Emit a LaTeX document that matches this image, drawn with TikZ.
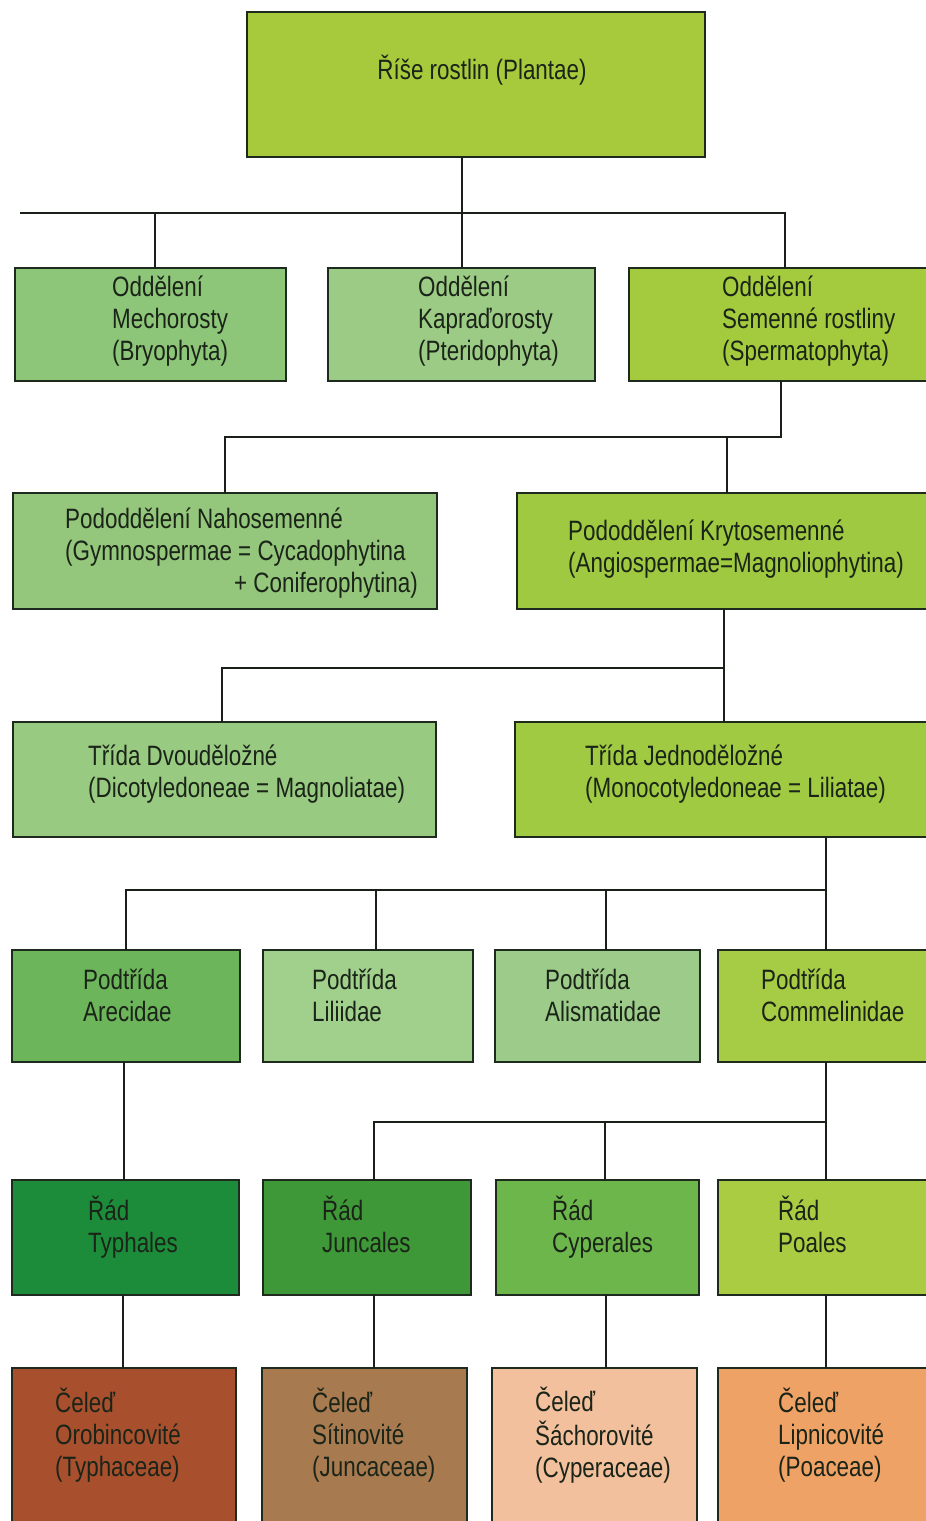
\documentclass[tikz,border=0pt]{standalone}
\usepackage{fontspec}
\setmainfont[FakeStretch=0.8]{Liberation Sans}
\definecolor{boxline}{HTML}{1F2A1F}
\definecolor{connc}{HTML}{1A1F1A}
\definecolor{txt}{HTML}{1B2418}
\definecolor{cRoot}{HTML}{A6CA3C}
\definecolor{cMech}{HTML}{8EC679}
\definecolor{cKap}{HTML}{9CCB85}
\definecolor{cSem}{HTML}{A4CA3E}
\definecolor{cNah}{HTML}{94C77B}
\definecolor{cKry}{HTML}{9EC940}
\definecolor{cDvo}{HTML}{99CA81}
\definecolor{cJed}{HTML}{A0CA42}
\definecolor{cAre}{HTML}{6CB55B}
\definecolor{cLil}{HTML}{A0D08C}
\definecolor{cAli}{HTML}{9DCB8A}
\definecolor{cCom}{HTML}{A6CB44}
\definecolor{cTyp}{HTML}{1D8C3A}
\definecolor{cJun}{HTML}{3F9838}
\definecolor{cCyp}{HTML}{6CB64C}
\definecolor{cPoa}{HTML}{A9CC42}
\definecolor{cTypc}{HTML}{A8502E}
\definecolor{cJunc}{HTML}{A77A50}
\definecolor{cCypc}{HTML}{F2C09C}
\definecolor{cPoac}{HTML}{EFA266}
\newcommand\mybox[6]{\node[box, fill=#6, minimum width={(#4-#2)*1pt}, minimum height={(#5-#3)*1pt}] (#1) at (#2,#3) {};}
\newcommand\ms{\rule[-9pt]{0pt}{32pt}}
\begin{document}
\begin{tikzpicture}[x=1pt,y=-1pt,
  box/.style={draw=boxline, line width=2pt, rectangle, anchor=north west, inner sep=0pt, outer sep=0pt},
  lbl/.style={anchor=west, align=left, inner sep=0pt, text=txt, font=\fontsize{28}{32}\selectfont},
  conn/.style={draw=connc, line width=2pt}]
\useasboundingbox (0,0) rectangle (926,1521);
\fill[white] (0,0) rectangle (926,1521);
\clip (0,0) rectangle (926,1521);

% boxes
\mybox{root}{247}{12}{705}{157}{cRoot}
\mybox{mech}{15}{268}{286}{381}{cMech}
\mybox{kap}{328}{268}{595}{381}{cKap}
\mybox{sem}{629}{268}{940}{381}{cSem}
\mybox{nah}{13}{493}{437}{609}{cNah}
\mybox{kry}{517}{493}{940}{609}{cKry}
\mybox{dvo}{13}{722}{436}{837}{cDvo}
\mybox{jed}{515}{722}{940}{837}{cJed}
\mybox{are}{12}{950}{240}{1062}{cAre}
\mybox{lil}{263}{950}{473}{1062}{cLil}
\mybox{ali}{495}{950}{700}{1062}{cAli}
\mybox{com}{718}{950}{940}{1062}{cCom}
\mybox{typ}{12}{1180}{239}{1295}{cTyp}
\mybox{jun}{263}{1180}{471}{1295}{cJun}
\mybox{cyp}{496}{1180}{699}{1295}{cCyp}
\mybox{poa}{718}{1180}{940}{1295}{cPoa}
\mybox{typc}{12}{1368}{236}{1545}{cTypc}
\mybox{junc}{262}{1368}{467}{1545}{cJunc}
\mybox{cypc}{492}{1368}{697}{1545}{cCypc}
\mybox{poac}{718}{1368}{940}{1545}{cPoac}

% texts
\node[lbl, anchor=center, align=center] (roott) at (482,72) {\ms Říše rostlin (Plantae)};
\node[lbl] (mecht) at (112,321) {\ms Oddělení\\\ms Mechorosty\\\ms (Bryophyta)};
\node[lbl] (kapt) at (418,321) {\ms Oddělení\\\ms Kapraďorosty\\\ms (Pteridophyta)};
\node[lbl] (semt) at (722,321) {\ms Oddělení\\\ms Semenné rostliny\\\ms (Spermatophyta)};
\node[lbl] (naht) at (65,553) {\ms Pododdělení Nahosemenné\\\ms (Gymnospermae = Cycadophytina\\\ms\hspace*{169pt}+ Coniferophytina)};
\node[lbl] (kryt) at (568,549) {\ms Pododdělení Krytosemenné\\\ms (Angiospermae=Magnoliophytina)};
\node[lbl] (dvot) at (88,774) {\ms Třída Dvouděložné\\\ms (Dicotyledoneae = Magnoliatae)};
\node[lbl] (jedt) at (585,774) {\ms Třída Jednoděložné\\\ms (Monocotyledoneae = Liliatae)};
\node[lbl] (aret) at (83,998) {\ms Podtřída\\\ms Arecidae};
\node[lbl] (lilt) at (312,998) {\ms Podtřída\\\ms Liliidae};
\node[lbl] (alit) at (545,998) {\ms Podtřída\\\ms Alismatidae};
\node[lbl] (comt) at (761,998) {\ms Podtřída\\\ms Commelinidae};
\node[lbl] (typt) at (88,1229) {\ms Řád\\\ms Typhales};
\node[lbl] (junt) at (322,1229) {\ms Řád\\\ms Juncales};
\node[lbl] (cypt) at (552,1229) {\ms Řád\\\ms Cyperales};
\node[lbl] (poat) at (778,1229) {\ms Řád\\\ms Poales};
\node[lbl] (typct) at (55,1437) {\ms Čeleď\\\ms Orobincovité\\\ms (Typhaceae)};
\node[lbl] (junct) at (312,1437) {\ms Čeleď\\\ms Sítinovité\\\ms (Juncaceae)};
\node[lbl] (cypct) at (535,1437) {\ms Čeleď\\\ms Šáchorovité\\\ms (Cyperaceae)};
\node[lbl] (poact) at (778,1437) {\ms Čeleď\\\ms Lipnicovité\\\ms (Poaceae)};

% junction coordinates
\coordinate (busL) at (20,213);
\coordinate (j1m) at (155,213);
\coordinate (j1) at (462,213);
\coordinate (j1r) at (785,213);
\coordinate (j2) at (781,437);
\coordinate (j2a) at (727,437);
\coordinate (j2b) at (225,437);
\coordinate (j3) at (724,668);
\coordinate (j3b) at (222,668);
\coordinate (j4) at (826,890);
\coordinate (j4a) at (606,890);
\coordinate (j4b) at (376,890);
\coordinate (j4c) at (126,890);
\coordinate (j5) at (124,1120);
\coordinate (j6) at (826,1122);
\coordinate (j6a) at (605,1122);
\coordinate (j6b) at (374,1122);
\coordinate (k1) at (123,1330);
\coordinate (k2) at (374,1330);
\coordinate (k3) at (606,1330);
\coordinate (k4) at (826,1330);

% connectors
\draw[conn] (root.south -| j1) -- (j1) -- (kap.north -| j1);
\draw[conn] (busL) -- (j1r) -- (sem.north -| j1r);
\draw[conn] (j1m) -- (mech.north -| j1m);
\draw[conn] (sem.south -| j2) -- (j2) -- (j2b) -- (nah.north -| j2b);
\draw[conn] (j2a) -- (kry.north -| j2a);
\draw[conn] (kry.south -| j3) -- (jed.north -| j3);
\draw[conn] (j3) -- (j3b) -- (dvo.north -| j3b);
\draw[conn] (jed.south -| j4) -- (com.north -| j4);
\draw[conn] (j4) -- (j4c) -- (are.north -| j4c);
\draw[conn] (j4b) -- (lil.north -| j4b);
\draw[conn] (j4a) -- (ali.north -| j4a);
\draw[conn] (are.south -| j5) -- (typ.north -| j5);
\draw[conn] (com.south -| j6) -- (poa.north -| j6);
\draw[conn] (j6) -- (j6b) -- (jun.north -| j6b);
\draw[conn] (j6a) -- (cyp.north -| j6a);
\draw[conn] (typ.south -| k1) -- (typc.north -| k1);
\draw[conn] (jun.south -| k2) -- (junc.north -| k2);
\draw[conn] (cyp.south -| k3) -- (cypc.north -| k3);
\draw[conn] (poa.south -| k4) -- (poac.north -| k4);
\end{tikzpicture}
\end{document}
